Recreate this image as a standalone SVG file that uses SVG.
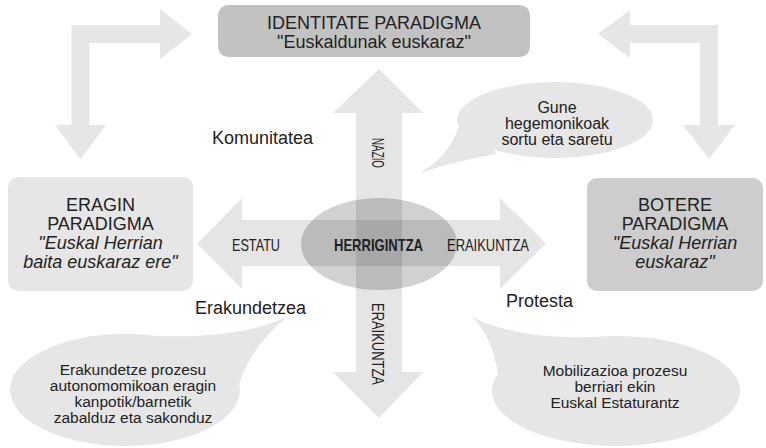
<svg xmlns="http://www.w3.org/2000/svg" width="766" height="448" viewBox="0 0 766 448">
<style>
  .t{font-family:"Liberation Sans",Arial,Helvetica,sans-serif;fill:#222;}
  .box{font-size:18px;text-anchor:middle;}
  .it{font-style:italic;}
  .lbl{font-size:18px;}
  .bub{font-size:16px;text-anchor:middle;}
  .bub2{font-size:15.5px;text-anchor:middle;}
  .cx{font-size:17px;}
  .corner{fill:#e6e6e6;}
  .cross{fill:#000;fill-opacity:0.1;}
  .bubble{fill:#e6e6e6;}
</style>
<rect width="766" height="448" fill="#fff"/>

<g id="connectors">
  <path class="corner" d="M71.5 25 H160 V9 L192 34 L160 59 V43 H89.5 V125 H106 L80.5 159 L55 125 H71.5 Z"/>
  <path class="corner" d="M598 34 L630 10 V25 H718 V125 H735 L709 159 L683 125 H700 V43 H630 V58 Z"/>
  <path id="arrow-vertical" class="cross" d="M379 69 L423 113 H402 V372 H423 L379 418 L333 372 H356 V113 H333 Z"/>
  <path id="arrow-horizontal" class="cross" d="M197 243.5 L242 198 V220 H500 V198 L546 243.5 L500 289 V266 H242 V289 Z"/>
  <text class="t cx" transform="translate(372 153) rotate(90)" text-anchor="middle" textLength="30" lengthAdjust="spacingAndGlyphs">NAZIO</text>
  <text class="t cx" transform="translate(372 344) rotate(90)" text-anchor="middle" textLength="82" lengthAdjust="spacingAndGlyphs">ERAIKUNTZA</text>
  <text class="t cx" x="232" y="250.5" textLength="48" lengthAdjust="spacingAndGlyphs">ESTATU</text>
  <text class="t cx" x="447" y="250.5" textLength="82" lengthAdjust="spacingAndGlyphs">ERAIKUNTZA</text>
</g>

<g id="herrigintza">
  <ellipse cx="379" cy="244" rx="78" ry="46" fill="#000" fill-opacity="0.18"/>
  <text class="t cx" x="334" y="250.5" font-weight="bold" textLength="89" lengthAdjust="spacingAndGlyphs">HERRIGINTZA</text>
</g>

<g id="identitate">
  <rect x="218" y="5" width="312" height="52" rx="10" fill="#c2c2c2"/>
  <text class="t box" x="374" y="29">IDENTITATE PARADIGMA</text>
  <text class="t box" x="374" y="48">"Euskaldunak euskaraz"</text>
</g>

<g id="eragin">
  <rect x="8" y="177" width="185" height="114" rx="10" fill="#e6e6e6"/>
  <text class="t box" x="100.5" y="211">ERAGIN</text>
  <text class="t box" x="100.5" y="230">PARADIGMA</text>
  <text class="t box it" x="100.5" y="249">"Euskal Herrian</text>
  <text class="t box it" x="100.5" y="268">baita euskaraz ere"</text>
</g>

<g id="botere">
  <rect x="587" y="178" width="176" height="113" rx="10" fill="#cdcdcd"/>
  <text class="t box" x="675" y="211">BOTERE</text>
  <text class="t box" x="675" y="230">PARADIGMA</text>
  <text class="t box it" x="675" y="249">"Euskal Herrian</text>
  <text class="t box it" x="675" y="268">euskaraz"</text>
</g>

<g id="komunitatea">
  <text class="t lbl" x="212" y="144">Komunitatea</text>
</g>
<g id="erakundetzea">
  <text class="t lbl" x="195" y="314">Erakundetzea</text>
</g>
<g id="protesta">
  <text class="t lbl" x="506" y="307">Protesta</text>
</g>

<g id="bubble-gune">
  <ellipse class="bubble" cx="555" cy="120" rx="98" ry="38"/>
  <path class="bubble" d="M464 106 Q457 152 420 173 Q455 161 497 154 Z"/>
  <text class="t bub" x="557" y="113">Gune</text>
  <text class="t bub" x="557" y="129">hegemonikoak</text>
  <text class="t bub" x="557" y="145">sortu eta saretu</text>
</g>

<g id="bubble-erakundetze">
  <ellipse class="bubble" cx="125" cy="390" rx="115" ry="56"/>
  <path class="bubble" d="M150 336 Q240 339 287 317 Q246 350 234 400 Z"/>
  <text class="t bub2" x="133" y="375">Erakundetze prozesu</text>
  <text class="t bub2" x="133" y="391">autonomomikoan eragin</text>
  <text class="t bub2" x="133" y="407">kanpotik/barnetik</text>
  <text class="t bub2" x="133" y="423">zabalduz eta sakonduz</text>
</g>

<g id="bubble-mobilizazioa">
  <ellipse class="bubble" cx="616" cy="391" rx="124" ry="55"/>
  <path class="bubble" d="M472 317 Q520 340 592 337 L500 390 Q496 340 472 317 Z"/>
  <text class="t bub2" x="615" y="376">Mobilizazioa prozesu</text>
  <text class="t bub2" x="615" y="392">berriari ekin</text>
  <text class="t bub2" x="615" y="408">Euskal Estaturantz</text>
</g>
</svg>
